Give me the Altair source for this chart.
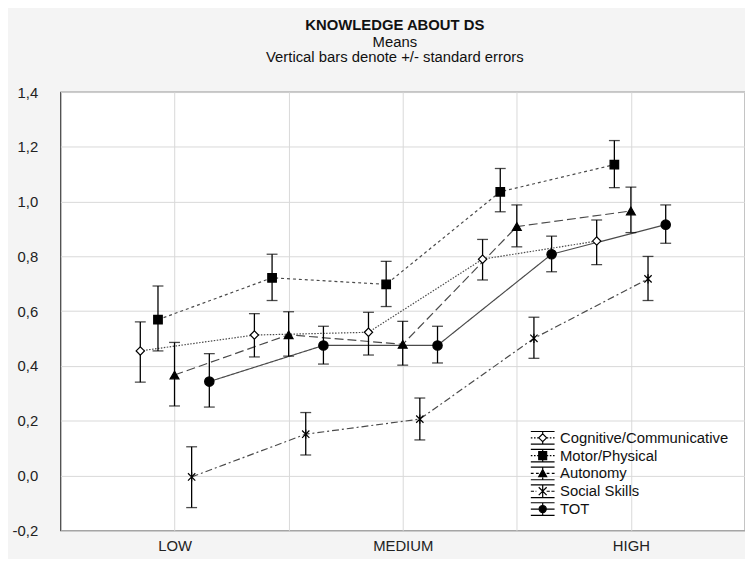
import altair as alt
import pandas as pd

# ---------------- data ----------------
series = ["Cognitive/Communicative", "Motor/Physical", "Autonomy", "Social Skills", "TOT"]
levels = [1, 2, 3, 4, 5]
tick_labels = {1: "LOW", 3: "MEDIUM", 5: "HIGH"}
y_ticks = [-0.2, 0.0, 0.2, 0.4, 0.6, 0.8, 1.0, 1.2, 1.4]

cog_mean = [0.455, 0.513, 0.523, 0.790, 0.856]
cog_lo = [0.341, 0.433, 0.440, 0.714, 0.770]
cog_hi = [0.561, 0.591, 0.596, 0.862, 0.933]

motor_mean = [0.569, 0.722, 0.698, 1.036, 1.135]
motor_lo = [0.455, 0.639, 0.617, 0.963, 1.051]
motor_hi = [0.692, 0.808, 0.782, 1.121, 1.223]

auto_mean = [0.367, 0.514, 0.479, 0.909, 0.966]
auto_lo = [0.254, 0.436, 0.403, 0.835, 0.887]
auto_hi = [0.486, 0.598, 0.563, 0.988, 1.053]

social_mean = [-0.005, 0.151, 0.206, 0.501, 0.718]
social_lo = [-0.117, 0.075, 0.130, 0.428, 0.639]
social_hi = [0.105, 0.230, 0.283, 0.578, 0.800]

tot_mean = [0.343, 0.475, 0.475, 0.808, 0.916]
tot_lo = [0.250, 0.407, 0.411, 0.744, 0.848]
tot_hi = [0.445, 0.545, 0.545, 0.874, 0.988]

means = [cog_mean, motor_mean, auto_mean, social_mean, tot_mean]
lows = [cog_lo, motor_lo, auto_lo, social_lo, tot_lo]
highs = [cog_hi, motor_hi, auto_hi, social_hi, tot_hi]

# ---------------- layout / style ----------------
dodge = [-0.30, -0.145, 0.0, 0.15, 0.305]
FONT = "Liberation Sans, Arial, sans-serif"
dashes = [[1.5, 1.5], [3, 3], [9, 4], [7, 3, 2, 3], [1, 0]]
fills = ["white", "black", "black", "black", "black"]
strokes = ["black"] * 5
star = "M-0.8,-0.8L0.8,0.8M-0.8,0.8L0.8,-0.8M0,-1L0,1"
shapes = ["diamond", "square", "triangle-up", star, "circle"]
sizes = [70, 90, 80, 150, 45]

bars = "M-3,-1.6L3,-1.6M-3,1.6L3,1.6M0,-1.6L0,-1M0,1L0,1.6"
mid_dot = "M-3,0L-2.6,0M-2.2,0L-1.8,0M-1.4,0L-1,0M1,0L1.4,0M1.8,0L2.2,0M2.6,0L3,0"
mid_dash = "M-3,0L-2.3,0M-1.7,0L-1,0M1,0L1.7,0M2.3,0L3,0"
mid_dashdot = "M-3,0L-2.2,0M-1.8,0L-1.6,0M1,0L1.8,0M2.2,0L3,0"
mid_solid = "M-3,0L-1,0M1,0L3,0"
legend_paths = [
    bars + mid_dot + "M0,-1L1,0L0,1L-1,0Z",
    bars + mid_dot + "M-1,-1L1,-1L1,1L-1,1Z",
    bars + mid_dash + "M0,-1L1,0.8L-1,0.8Z",
    bars + mid_dashdot + "M-1,-1L1,1M-1,1L1,-1M0,-1L0,1",
    bars + mid_solid + "M0.9,0A0.9,0.9,0,1,1,-0.9,0A0.9,0.9,0,1,1,0.9,0Z",
]

rows = []
for i, s in enumerate(series):
    for j, lv in enumerate(levels):
        rows.append({
            "series": s,
            "Series": s,
            "x": lv + dodge[i],
            "mean": means[i][j],
            "lo": lows[i][j],
            "hi": highs[i][j],
        })
df = pd.DataFrame(rows)

label_expr = " : ".join(
    [f"datum.value == {k} ? '{v}'" for k, v in tick_labels.items()]
) + " : ''"

x_enc = alt.X(
    "x:Q",
    scale=alt.Scale(domain=[0, 6], nice=False, zero=False),
    axis=alt.Axis(
        values=levels, labelExpr=label_expr, title=None, ticks=False, domain=False,
        grid=True, gridColor="#d9d9d9", gridWidth=1, labelPadding=8,
        labelFont=FONT, labelFontSize=15, labelColor="#222", labelFlush=False,
    ),
)
y_scale = alt.Scale(domain=[-0.2, 1.4], nice=False, zero=False)
y_enc = alt.Y(
    "mean:Q",
    scale=y_scale,
    axis=alt.Axis(
        values=y_ticks,
        labelExpr="replace(replace(format(datum.value, '.1f'), '.', ','), '\u2212', '-')",
        title=None, ticks=False, domain=False, grid=True, gridColor="#d9d9d9",
        gridWidth=1, labelPadding=23, labelFont=FONT, labelFontSize=15,
        labelColor="#222", labelFlush=False,
    ),
)

base = alt.Chart(df)

lines = base.mark_line(strokeWidth=1.2, color="#4a4a4a").encode(
    x=x_enc,
    y=y_enc,
    detail="series:N",
    strokeDash=alt.StrokeDash("series:N", scale=alt.Scale(domain=series, range=dashes), legend=None),
)

err = base.mark_rule(color="black", strokeWidth=1.3).encode(
    x="x:Q", y=alt.Y("lo:Q", scale=y_scale), y2="hi:Q"
)
cap_lo = base.mark_tick(orient="horizontal", size=11, thickness=1.3, color="black").encode(
    x="x:Q", y=alt.Y("lo:Q", scale=y_scale)
)
cap_hi = base.mark_tick(orient="horizontal", size=11, thickness=1.3, color="black").encode(
    x="x:Q", y=alt.Y("hi:Q", scale=y_scale)
)

markers = base.mark_point(opacity=1, stroke="black", strokeWidth=1.2).encode(
    x="x:Q",
    y=alt.Y("mean:Q", scale=y_scale),
    shape=alt.Shape("series:N", scale=alt.Scale(domain=series, range=shapes), legend=None),
    fill=alt.Fill("series:N", scale=alt.Scale(domain=series, range=fills), legend=None),
    size=alt.Size("series:N", scale=alt.Scale(domain=series, range=sizes), legend=None),
)

leg = alt.Legend(
    title=None, orient="none", legendX=480, legendY=342, padding=0,
    symbolSize=64, symbolStrokeColor="black", symbolStrokeWidth=1.2,
    symbolOpacity=1, labelOffset=10, rowPadding=-1,
    labelFont=FONT, labelFontSize=15, labelColor="#111", labelLimit=300,
)
legend_layer = base.mark_point(opacity=0, strokeWidth=1.2).encode(
    x="x:Q",
    y=alt.Y("mean:Q", scale=y_scale),
    shape=alt.Shape("Series:N", scale=alt.Scale(domain=series, range=legend_paths), legend=leg),
    fill=alt.Fill("Series:N", scale=alt.Scale(domain=series, range=fills), legend=leg),
    stroke=alt.Stroke("Series:N", scale=alt.Scale(domain=series, range=strokes), legend=leg),
)

chart = (
    alt.layer(lines, err, cap_lo, cap_hi, markers, legend_layer)
    .resolve_scale(shape="independent", fill="independent", stroke="independent")
    .properties(
        width=692,
        height=443,
        padding={"left": 53, "top": 82, "right": 0, "bottom": 26},
        autosize=alt.AutoSizeParams(type="none"),
        background="#f4f4f4",
        title=alt.TitleParams(
            text="KNOWLEDGE ABOUT DS",
            subtitle=["Means", "Vertical bars denote +/- standard errors"],
            font=FONT, fontSize=15, fontWeight="bold", color="#111",
            subtitleFont=FONT, subtitleFontSize=15, subtitleColor="#111",
            subtitlePadding=2, subtitleLineHeight=16,
            anchor="middle", offset=20, dx=-8,
        ),
    )
    .configure_view(fill="white", stroke="#3a3a3a", strokeWidth=1.2)
)

chart.save("out.html", embed_options={"renderer": "svg", "actions": False})
